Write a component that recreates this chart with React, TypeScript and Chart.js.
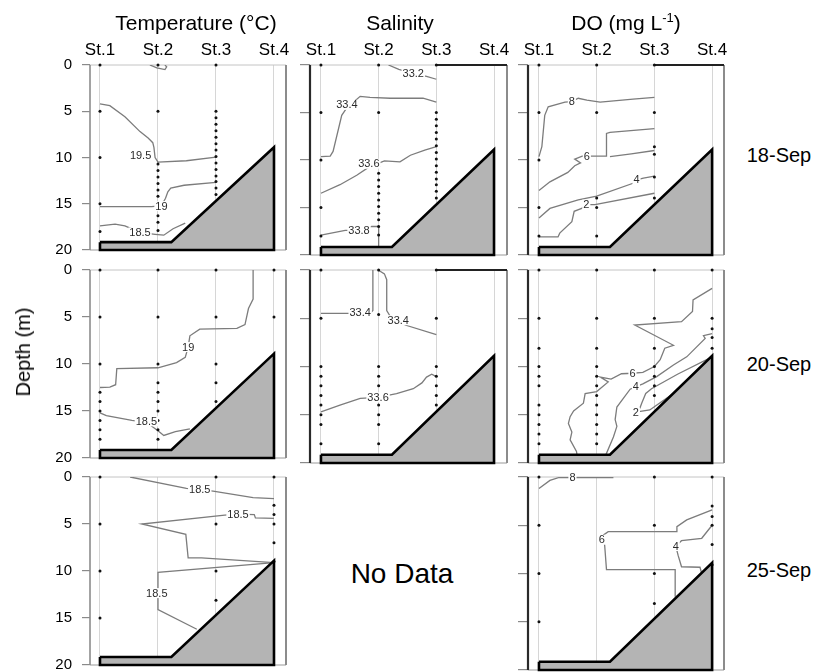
import React, { useEffect, useRef } from "react";
import { Chart, registerables } from "chart.js";

Chart.register(...registerables);

const FONT = "'Liberation Sans', Arial, sans-serif";

// ---------- data ----------
const STATIONS = ["St.1", "St.2", "St.3", "St.4"];
const DEPTH_TICKS = [0, 5, 10, 15, 20];
const BATHY_X = [0, 1.23, 3, 3, 0, 0];
const BATHY_D = [19.15, 19.15, 8.9, 20, 20, 19.15];

type Pt = [number, number];
type Label = [string, number, number];

const DENSE_ST2 = [10.7, 11.4, 12.1, 12.8, 13.5, 14.2, 14.9, 15.6, 16.3, 17.0, 17.9];
const DENSE_ST3 = [5.0, 5.7, 6.4, 7.1, 7.8, 8.5, 9.2, 9.9, 10.6, 11.3, 12.0, 12.6, 13.3, 14.0];

// Temperature 18-Sep
const TEMP18_DOTS = [[0, 5, 10, 15, 18], [0, 5, ...DENSE_ST2], [0, ...DENSE_ST3], []];
const TEMP18_LINES: Pt[][] = [
  [[0.86, 0], [0.98, 0.3], [1.12, 0.5], [1.15, 0.2], [1.12, 0]],
  [[0, 4.2], [0.17, 4.4], [0.43, 5.6], [0.69, 7.2], [0.83, 7.9], [0.91, 8.4], [0.93, 8.9], [0.95, 10.0], [1.0, 10.5], [1.49, 10.35], [2.0, 9.95]],
  [[0, 15.3], [0.89, 15.3], [1.06, 15.2], [1.13, 14.4], [1.17, 13.7], [1.22, 13.3], [1.45, 13.0], [2.0, 12.7]],
  [[0, 17.4], [0.26, 17.2], [0.43, 17.4], [0.69, 18.1], [0.95, 18.3], [1.1, 18.4], [1.26, 17.7], [1.47, 17.1]],
];
const TEMP18_LABELS: Label[] = [["19.5", 0.7, 9.8], ["19", 1.06, 15.25], ["18.5", 0.69, 18.1]];

// Salinity 18-Sep
const SAL18_DOTS = [[0, 5, 10, 15, 18], [0, 5, ...DENSE_ST2], [0, ...DENSE_ST3], []];
const SAL18_LINES: Pt[][] = [
  [[1.17, 0], [1.35, 0.45], [1.6, 0.9], [1.83, 1.2], [2.0, 1.5]],
  [[0, 9.65], [0.16, 9.6], [0.21, 9.1], [0.36, 5.3], [0.45, 4.5], [0.68, 3.3], [0.85, 3.4], [1.2, 3.5], [1.77, 3.5], [2.0, 3.9]],
  [[0, 13.5], [0.33, 12.6], [0.62, 11.6], [0.83, 10.75], [1.1, 10.1], [1.37, 10.2], [1.55, 9.5], [1.8, 8.95], [2.0, 8.6]],
  [[0, 17.9], [0.42, 17.4], [0.66, 17.4], [0.88, 17.0], [1.0, 17.0], [1.0, 19.2]],
];
const SAL18_LABELS: Label[] = [["33.2", 1.6, 0.9], ["33.4", 0.45, 4.2], ["33.6", 0.83, 10.4], ["33.8", 0.66, 17.4]];

// DO 18-Sep
const DO18_DOTS = [[0, 5, 10, 15, 18], [0, 5, 14, 15, 18], [0, 5, 8.6, 9.4, 11.8, 14], []];
const DO18_LINES: Pt[][] = [
  [[0, 9.65], [0.05, 8.6], [0.1, 5.3], [0.16, 4.4], [0.45, 3.9], [0.57, 3.85], [0.68, 3.5], [0.83, 3.7], [1.06, 3.9], [1.63, 3.6], [2.0, 3.4]],
  [[0, 13.2], [0.19, 12.3], [0.5, 11.3], [0.62, 10.6], [0.72, 10.3], [0.62, 9.9], [0.75, 9.6], [1.17, 9.6], [1.17, 7.2], [1.23, 7.1], [2.0, 6.7]],
  [[1.23, 9.65], [1.6, 9.35], [2.0, 9.0]],
  [[0, 16.1], [0.19, 15.1], [0.68, 14.2], [1.0, 13.8], [1.63, 12.45], [1.69, 12.1], [1.81, 11.9], [2.0, 11.7]],
  [[0, 18.1], [0.33, 18.1], [0.36, 17.7], [0.57, 16.5], [0.61, 15.4], [0.74, 15.1], [0.82, 14.7], [0.97, 14.7], [2.0, 13.5]],
];
const DO18_LABELS: Label[] = [["8", 0.57, 3.85], ["6", 0.83, 9.6], ["4", 1.69, 12.1], ["2", 0.82, 14.7]];

// Temperature 20-Sep
const TEMP20_DOTS = [[0, 5, 10, 13, 14, 15, 16, 17, 18], [0, 5, 10, 12, 13, 14, 15, 16, 17, 18], [0, 5, 10, 12, 14], [0, 5]];
const TEMP20_LINES: Pt[][] = [
  [[0, 12.5], [0.17, 12.45], [0.27, 12.2], [0.29, 10.5], [1.0, 10.4], [1.32, 9.85], [1.47, 9.3], [1.52, 8.2], [1.55, 7.0], [1.72, 6.3], [2.36, 6.2], [2.5, 5.8], [2.56, 4.1], [2.64, 3.1], [2.64, 0]],
  [[0, 15.2], [0.11, 15.5], [0.55, 16.0], [0.8, 16.2], [1.0, 17.1], [1.1, 17.6], [1.3, 17.2], [1.55, 16.9]],
];
const TEMP20_LABELS: Label[] = [["19", 1.52, 8.2], ["18.5", 0.8, 16.1]];

// Salinity 20-Sep
const SAL20_DOTS = [[0, 5, 10, 11, 12, 13, 14, 15, 16, 18], [0, 4.6, 10, 11, 12, 13, 14, 15, 16, 18], [0, 5, 10, 11, 12, 13, 14], []];
const SAL20_LINES: Pt[][] = [
  [[0, 4.5], [0.5, 4.5], [0.85, 4.5], [0.9, 4.2], [0.9, 0]],
  [[0.99, 0], [1.1, 0.4], [1.14, 1.0], [1.14, 4.2], [1.2, 4.8], [1.34, 5.2], [1.46, 5.7], [2.0, 6.7]],
  [[0, 14.7], [0.33, 14.0], [0.68, 13.3], [0.99, 13.2], [1.31, 12.8], [1.6, 12.3], [1.75, 11.7], [1.83, 11.1], [1.92, 10.8], [2.0, 11.05]],
];
const SAL20_LABELS: Label[] = [["33.4", 0.68, 4.45], ["33.4", 1.34, 5.2], ["33.6", 0.99, 13.2]];

// DO 20-Sep
const DO20_DOTS = [[0, 5, 8.1, 10, 11, 12, 14, 15, 16, 17, 18], [0, 5, 8.1, 10, 11, 12, 13, 14, 15, 16, 17, 18], [0, 5, 8.1, 10, 11, 12, 13], [0, 5, 6.1, 7, 8.1]];
const DO20_LINES: Pt[][] = [
  [[3.0, 1.9], [2.67, 3.1], [2.66, 4.3], [2.47, 5.35], [1.66, 5.7], [2.33, 7.8], [2.18, 8.1], [2.1, 9.3], [2.0, 10.0], [1.8, 10.6], [1.62, 10.7], [1.43, 10.75], [1.25, 11.3], [1.06, 11.1], [1.2, 11.6], [1.0, 12.6], [0.8, 12.8], [0.77, 13.8], [0.6, 14.6], [0.54, 15.2], [0.51, 15.9], [0.57, 16.8], [0.54, 17.6], [0.65, 18.8], [0.66, 19.2]],
  [[3.0, 6.6], [2.85, 6.8], [2.88, 7.1], [2.56, 9.0], [2.33, 9.85], [2.04, 11.05], [1.8, 11.8], [1.68, 12.1], [1.58, 12.35], [1.35, 14.2], [1.32, 15.5], [1.35, 16.2], [1.29, 17.3], [1.17, 19.0], [1.15, 19.2]],
  [[3.0, 9.0], [2.4, 10.8], [1.95, 12.3], [1.85, 12.8], [1.78, 13.8], [1.75, 14.3], [1.7, 14.7], [1.92, 14.5], [2.4, 12.5], [3.0, 9.3]],
];
const DO20_LABELS: Label[] = [["6", 1.62, 10.7], ["4", 1.68, 12.1], ["2", 1.68, 14.75]];

// Temperature 25-Sep
const TEMP25_DOTS = [[0, 5, 10, 15], [], [0, 5, 10, 13.1], [0, 3, 4, 5, 7, 9]];
const TEMP25_LINES: Pt[][] = [
  [[0.52, 0], [1.49, 1.2], [1.72, 1.35], [1.95, 1.5], [2.64, 2.2], [3.0, 2.3]],
  [[3.0, 4.4], [2.68, 4.35], [2.66, 4.0], [2.38, 3.95], [2.15, 4.05], [0.72, 5.0], [1.48, 6.1], [1.52, 8.6], [1.75, 8.6], [3.0, 9.1]],
  [[3.0, 9.1], [1.0, 10.15], [1.0, 14.1], [1.67, 16.2]],
];
const TEMP25_LABELS: Label[] = [["18.5", 1.72, 1.35], ["18.5", 2.38, 3.95], ["18.5", 0.98, 12.35]];

// DO 25-Sep
const DO25_DOTS = [[0, 5, 10, 15], [], [0, 5, 10, 13.1], [0, 3, 4.1, 5, 7, 9.1]];
const DO25_LINES: Pt[][] = [
  [[0, 1.2], [0.19, 0.35], [0.35, 0.05], [1.29, 0.05]],
  [[3.0, 3.4], [2.56, 4.45], [2.39, 5.15], [2.39, 5.67], [1.2, 5.67], [1.12, 6.0], [1.14, 7.2], [1.17, 9.6], [2.36, 9.6], [2.36, 12.4]],
  [[3.0, 5.0], [2.82, 6.35], [2.47, 6.6], [2.37, 7.15], [2.41, 8.1], [2.47, 9.3], [2.79, 9.35], [2.82, 10.0]],
];
const DO25_LABELS: Label[] = [["8", 0.58, 0.05], ["6", 1.09, 6.5], ["4", 2.37, 7.15]];

// ---------- layout ----------
const COL_LEFT = [90, 310, 528];
const COL_WIDTH = [196, 197, 196];
const COL_XMIN = [-0.172, -0.19, -0.19];
const COL_XMAX = [3.207, 3.225, 3.206];
const ROW_TOP = [65, 270, 477];
const ROW_HEIGHT = [190, 193, 193];

interface PanelSpec {
  row: number;
  col: number;
  dots: number[][];
  lines: Pt[][];
  labels: Label[];
  darkTop?: [number, number];
}

const PANELS: PanelSpec[] = [
  { row: 0, col: 0, dots: TEMP18_DOTS, lines: TEMP18_LINES, labels: TEMP18_LABELS },
  { row: 0, col: 1, dots: SAL18_DOTS, lines: SAL18_LINES, labels: SAL18_LABELS, darkTop: [2, 3.3] },
  { row: 0, col: 2, dots: DO18_DOTS, lines: DO18_LINES, labels: DO18_LABELS, darkTop: [2, 3.3] },
  { row: 1, col: 0, dots: TEMP20_DOTS, lines: TEMP20_LINES, labels: TEMP20_LABELS },
  { row: 1, col: 1, dots: SAL20_DOTS, lines: SAL20_LINES, labels: SAL20_LABELS, darkTop: [2, 3.3] },
  { row: 1, col: 2, dots: DO20_DOTS, lines: DO20_LINES, labels: DO20_LABELS },
  { row: 2, col: 0, dots: TEMP25_DOTS, lines: TEMP25_LINES, labels: TEMP25_LABELS },
  { row: 2, col: 2, dots: DO25_DOTS, lines: DO25_LINES, labels: DO25_LABELS },
];

function Panel({ spec }: { spec: PanelSpec }) {
  const ref = useRef<HTMLCanvasElement>(null);
  const { row, col } = spec;
  const AL = col === 0 ? 60 : 14;
  const AT = 32;
  const PR = 16;
  const PB = 14;
  const W = AL + COL_WIDTH[col] + PR;
  const H = AT + ROW_HEIGHT[row] + PB;

  useEffect(() => {
    const canvas = ref.current;
    if (!canvas) return;

    const dotData: { x: number; y: number }[] = [];
    spec.dots.forEach((depths, i) => depths.forEach((d) => dotData.push({ x: i, y: d })));

    const datasets: any[] = [
      {
        data: BATHY_X.map((x, i) => ({ x, y: BATHY_D[i] })),
        showLine: true,
        fill: "shape",
        backgroundColor: "#b4b4b4",
        borderColor: "#000",
        borderWidth: 2.6,
        borderJoinStyle: "miter",
        pointRadius: 0,
        tension: 0,
        clip: false,
        order: 0,
      },
      {
        data: dotData,
        showLine: false,
        pointRadius: 1.5,
        pointBackgroundColor: "#111",
        pointBorderWidth: 0,
        clip: false,
        order: 1,
      },
      ...spec.lines.map((ln) => ({
        data: ln.map(([x, y]) => ({ x, y })),
        showLine: true,
        fill: false,
        borderColor: "#7c7c7c",
        borderWidth: 1.3,
        pointRadius: 0,
        tension: 0,
        order: 2,
      })),
    ];

    const framePlugin = {
      id: "frame" + row + col,
      beforeDatasetsDraw(chart: any) {
        const { ctx, chartArea: a, scales } = chart;
        const seg = (x1: number, y1: number, x2: number, y2: number, c: string, w: number) => {
          ctx.beginPath();
          ctx.strokeStyle = c;
          ctx.lineWidth = w;
          ctx.moveTo(x1, y1);
          ctx.lineTo(x2, y2);
          ctx.stroke();
        };
        ctx.save();
        seg(a.left, a.top, a.right, a.top, "#c4c4c4", 1);
        seg(a.left, a.bottom, a.right, a.bottom, "#9a9a9a", 1.2);
        seg(a.right, a.top, a.right, a.bottom, "#8c8c8c", 2);
        seg(a.left, a.top, a.left, a.bottom, col === 0 ? "#8c8c8c" : "#2a2a2a", col === 0 ? 1.6 : 2.2);
        if (spec.darkTop) {
          const x1 = Math.max(a.left, scales.x.getPixelForValue(spec.darkTop[0]));
          const x2 = Math.min(a.right, scales.x.getPixelForValue(spec.darkTop[1]));
          seg(x1, a.top, x2, a.top, "#222", 2);
        }
        ctx.restore();
      },
    };

    const labelPlugin = {
      id: "clabels" + row + col,
      afterDatasetsDraw(chart: any) {
        const { ctx, scales } = chart;
        ctx.save();
        ctx.font = `11px ${FONT}`;
        ctx.textAlign = "center";
        ctx.textBaseline = "middle";
        spec.labels.forEach(([t, x, y]) => {
          const px = scales.x.getPixelForValue(x);
          const py = scales.y.getPixelForValue(y);
          const w = ctx.measureText(t).width;
          ctx.fillStyle = "#fff";
          ctx.fillRect(px - w / 2 - 1, py - 5, w + 2, 10);
          ctx.fillStyle = "#2a2a2a";
          ctx.fillText(t, px, py + 0.5);
        });
        ctx.restore();
      },
    };

    const chart = new Chart(canvas, {
      type: "line",
      data: { datasets },
      options: {
        responsive: false,
        animation: false,
        devicePixelRatio: 1,
        events: [],
        layout: { padding: { left: 0, top: 0, right: PR, bottom: PB } },
        plugins: {
          legend: { display: false },
          tooltip: { enabled: false },
          title: { display: false },
        },
        scales: {
          x: {
            type: "linear",
            position: "top",
            min: COL_XMIN[col],
            max: COL_XMAX[col],
            afterBuildTicks: (s: any) => {
              s.ticks = STATIONS.map((_, i) => ({ value: i }));
            },
            afterFit: (s: any) => {
              s.height = AT;
            },
            grid: { color: "#d6d6d6", lineWidth: 1, drawTicks: false },
            border: { display: false },
            ticks: {
              display: row === 0,
              callback: (v: any) => STATIONS[Math.round(Number(v))],
              font: { size: 17, family: FONT },
              color: "#000",
              padding: 4,
              maxRotation: 0,
              autoSkip: false,
            },
          },
          y: {
            type: "linear",
            position: "left",
            reverse: true,
            min: 0,
            max: 20,
            afterBuildTicks: (s: any) => {
              s.ticks = DEPTH_TICKS.map((v) => ({ value: v }));
            },
            afterFit: (s: any) => {
              s.width = AL;
            },
            grid: { drawOnChartArea: false, drawTicks: true, tickLength: col === 0 ? 8 : 10, color: "#8a8a8a", lineWidth: 1.2 },
            border: { display: false },
            ticks: {
              display: col === 0,
              font: { size: 15, family: FONT },
              color: "#000",
              padding: 10,
            },
          },
        },
      } as any,
      plugins: [framePlugin, labelPlugin],
    });
    return () => chart.destroy();
  }, []);

  return (
    <canvas
      ref={ref}
      width={W}
      height={H}
      style={{ position: "absolute", left: COL_LEFT[col] - AL, top: ROW_TOP[row] - AT, width: W, height: H }}
    />
  );
}

const TITLES = ["Temperature (°C)", "Salinity", "DO (mg L"];
const DATES = ["18-Sep", "20-Sep", "25-Sep"];

export default function App() {
  const txt: React.CSSProperties = { position: "absolute", fontFamily: FONT, color: "#000", whiteSpace: "nowrap", lineHeight: 1 };
  return (
    <div style={{ position: "absolute", left: 0, top: 0, width: 820, height: 672, background: "#fff", overflow: "hidden" }}>
      {PANELS.map((p) => (
        <Panel key={`${p.row}-${p.col}`} spec={p} />
      ))}
      <div style={{ ...txt, fontSize: 21, left: 196, top: 12, transform: "translateX(-50%)" }}>{TITLES[0]}</div>
      <div style={{ ...txt, fontSize: 21, left: 400, top: 12, transform: "translateX(-50%)" }}>{TITLES[1]}</div>
      <div style={{ ...txt, fontSize: 21, left: 626, top: 12, transform: "translateX(-50%)" }}>
        {TITLES[2]}
        <span style={{ fontSize: 13, position: "relative", top: -8 }}>-1</span>)
      </div>
      <div style={{ ...txt, fontSize: 20, left: 23, top: 352, transform: "translate(-50%, -50%) rotate(-90deg)" }}>Depth (m)</div>
      {DATES.map((d, i) => (
        <div key={d} style={{ ...txt, fontSize: 20, left: 779, top: [155, 364, 570][i], transform: "translate(-50%, -50%)" }}>
          {d}
        </div>
      ))}
      <div style={{ ...txt, fontSize: 28, left: 402, top: 574, transform: "translate(-50%, -50%)" }}>No Data</div>
    </div>
  );
}
